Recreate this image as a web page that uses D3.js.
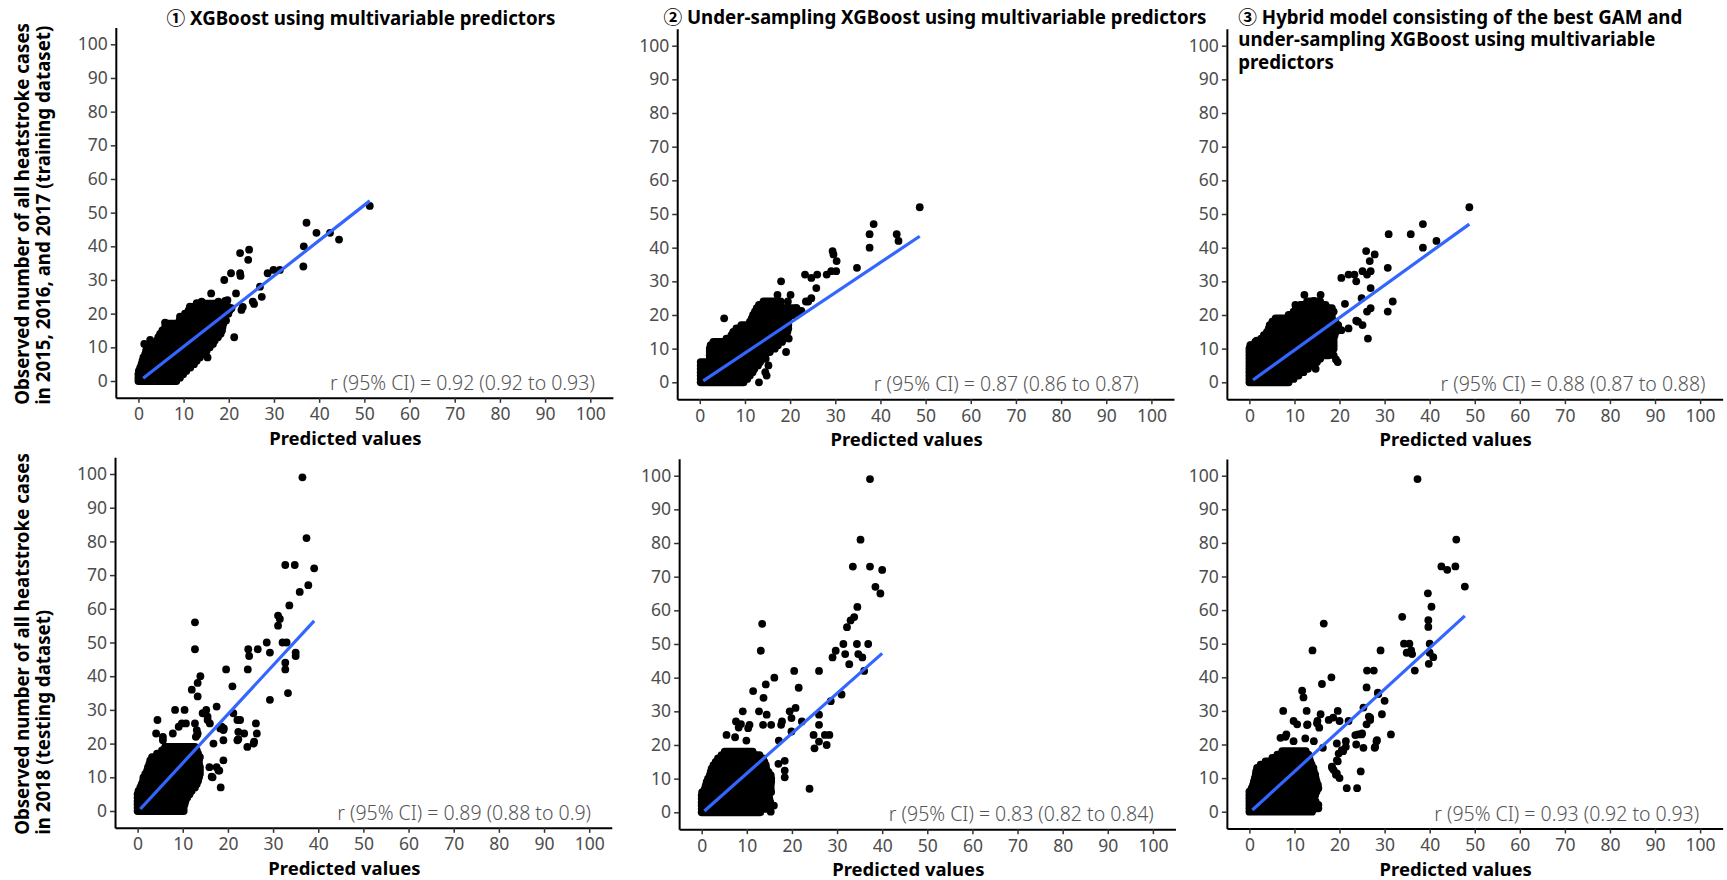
<!DOCTYPE html>
<html>
<head>
<meta charset="utf-8">
<script src="https://cdn.jsdelivr.net/npm/d3@7"></script>
<style>
  body { margin: 0; background: #fff; }
  text { font-family: "Noto Sans", "Noto Sans CJK JP", sans-serif; }
</style>
</head>
<body>
<svg id="chart" width="1727" height="880"></svg>
<script>
// ticks shared by every panel
const xTicks = [0, 10, 20, 30, 40, 50, 60, 70, 80, 90, 100];
const yTicks = [0, 10, 20, 30, 40, 50, 60, 70, 80, 90, 100];

const titleXgb = ['① XGBoost using multivariable predictors'];
const titleUs = ['② Under-sampling XGBoost using multivariable predictors'];
const titleHyb = ['③ Hybrid model consisting of the best GAM and', 'under-sampling XGBoost using multivariable', 'predictors'];

const yTitleTrain = ['Observed number of all heatstroke cases', 'in 2015, 2016, and 2017 (training dataset)'];
const yTitleTest = ['Observed number of all heatstroke cases', 'in 2018 (testing dataset)'];
const xTitle = 'Predicted values';

const corrXgbTrain = 'r (95% CI) = 0.92 (0.92 to 0.93)';
const corrUsTrain = 'r (95% CI) = 0.87 (0.86 to 0.87)';
const corrHybTrain = 'r (95% CI) = 0.88 (0.87 to 0.88)';
const corrXgbTest = 'r (95% CI) = 0.89 (0.88 to 0.9)';
const corrUsTest = 'r (95% CI) = 0.83 (0.82 to 0.84)';
const corrHybTest = 'r (95% CI) = 0.93 (0.92 to 0.93)';

// lm fit, ends of the line [predicted, observed]
const fitXgbTrain = [[1.05, 0.8], [51.2, 53.5]];
const fitUsTrain = [[0.76, 0.4], [48.7, 43.4]];
const fitHybTrain = [[0.8, 0.7], [48.8, 47.0]];
const fitXgbTest = [[0.6, 0.6], [39.1, 56.4]];
const fitUsTest = [[0.6, 0.4], [40.0, 47.2]];
const fitHybTest = [[0.66, 0.5], [47.8, 58.3]];

// dense part of each cloud: [observed count, lowest predicted, highest predicted]
const coreXgbTrain = [[0,0,8.4],[1,0,9.2],[2,0,9.9],[3,0.1,10.6],[4,0.4,11.5],[5,0.7,12.3],[6,0.9,12.9],[7,1.1,13.6],[8,1.5,14.5],[9,1.7,15.1],[10,1.9,15.8],[11,3,16.5],[12,4.1,16.9],[13,4.4,17.6],[14,4.8,18.2],[15,5.3,18.5],[16,5.9,18.6],[17,6.3,18.8],[18,9.1,18.9],[19,9.6,19.1],[20,10.3,19.9],[21,11.1,20.2],[22,11.5,19.9],[23,13.2,18]];
const coreUsTrain = [[0,0.2,9.7],[1,0.2,10.5],[2,0.2,11.1],[3,0.2,11.7],[4,0.2,12.1],[5,0.2,12.9],[6,0.2,13.4],[7,2.2,14],[8,2.2,14.3],[9,2.2,15.5],[10,2.2,16.6],[11,2.4,17.3],[12,3,18.2],[13,5.9,18.7],[14,7,19.2],[15,7.4,19.4],[16,8.1,19.6],[17,9.2,19.6],[18,11.1,19.2],[19,11.5,19.6],[20,11.8,21.4],[21,12.2,22.4],[22,12.6,21.4],[23,13.1,17.9],[24,14.1,17.9]];
const coreHybTrain = [[0,0,8.7],[1,0,9.8],[2,0,10.9],[3,0,12],[4,0,13],[5,0,13.9],[6,0,15],[7,0,15.7],[8,0,17.6],[9,0,18.3],[10,0,18.7],[11,0.2,18.7],[12,1.3,18.7],[13,2.6,18.7],[14,3.2,18.9],[15,3.9,19.2],[16,4.3,19.4],[17,4.5,19.7],[18,5.1,19.1],[19,5.8,18.3],[20,8.7,18.3],[21,9.8,18.7],[22,10.4,18.3],[23,11.3,16.9],[24,12.8,15.7]];
const coreXgbTest = [[0,0,10.2],[1,0,10.2],[2,0,10.4],[3,0,10.6],[4,0,11],[5,0,11.5],[6,0.2,12],[7,0.6,12.7],[8,0.9,13.1],[9,1.2,13.4],[10,1.3,13.6],[11,1.7,13.8],[12,2.1,13.8],[13,2.3,13.8],[14,2.6,13.6],[15,2.8,13.6],[16,3.2,13.8],[17,4.3,13.4],[18,5.4,13.1],[19,6.1,12.7]];
const coreUsTest = [[0,0,13],[1,0,14.5],[2,0,15.5],[3,0,15.2],[4,0,15],[5,0,14.9],[6,0.1,15.4],[7,0.7,15.3],[8,0.9,15.3],[9,1.1,15.4],[10,1.4,15.4],[11,1.8,15.3],[12,2,14.8],[13,2.2,14.3],[14,2.6,14.2],[15,3.1,13.9],[16,3.6,13.6],[17,4.4,12.8],[18,5.1,11.3]];
const coreHybTest = [[0,0,13.9],[1,0,15.3],[2,0,15.3],[3,0,14.7],[4,0,14.4],[5,0,14.6],[6,0,14.9],[7,0.5,15.3],[8,0.8,15.2],[9,1,14.9],[10,1.2,14.7],[11,1.4,14.6],[12,1.5,14.3],[13,1.7,14.2],[14,2.5,13.8],[15,3.6,13.5],[16,5.1,13.3],[17,6.2,13.1],[18,7.3,12.5]];

// single points outside the dense part [predicted, observed]
const ptsXgbTrain = [[51.2,52],[37.2,47],[39.4,44],[42.4,44],[44.4,42],[36.6,40],[36.5,34],[22.5,38],[24.5,39],[24.3,36],[28.6,32],[29.9,33],[31.3,33],[27.3,25],[26.9,28],[25.3,23.6],[25.6,22.9],[23.1,22],[22.8,21.1],[20.5,32],[22.5,32],[22.6,31.2],[19,30],[21.6,26],[19.2,23.8],[19.7,24],[17.7,23.6],[19.9,20.6],[20.6,21.6],[19.4,18],[21.2,13],[16.1,26],[15.3,7],[14.4,10],[1.3,11],[2.6,12.2],[5.9,17.3],[9.2,19.1],[11.4,22.1],[12.9,23.1],[14,23.6]];
const ptsUsTrain = [[48.7,52],[38.5,47],[37.6,44],[43.6,44],[44,42],[37.6,40],[34.8,34],[29.4,39],[29.6,38],[30.3,36],[28.1,32],[29.1,33],[30.2,33],[23.3,32],[24.7,31],[26,32],[25.8,28],[24.7,25],[23.5,24],[24,24],[18,30],[20.1,26],[17.2,26],[5.4,19],[19.1,9],[19.7,13],[13.1,0],[14.8,2],[15.2,5],[14.6,7],[14.5,3],[21.4,22],[22.5,21.2],[19.5,24]];
const ptsHybTrain = [[48.8,52],[38.5,47],[30.9,44],[35.8,44],[41.5,42],[38.5,40],[25.9,39],[27.8,38],[26.7,36],[30.7,34],[20.4,31],[22,32],[23.3,32],[23.7,30],[25.1,33],[26.9,33],[26.1,32],[26.9,28],[24.9,25],[31.8,24],[30.7,21],[26.9,22],[26.1,21],[24.1,18],[25.1,17],[23.7,18.3],[26.3,13],[19.6,6],[19.2,6.8],[14.7,4],[20.4,15.5],[22,16],[21.2,23.3],[12.2,26],[15.8,26],[10.2,23],[14.3,24.2],[0.4,11],[1.6,12.4],[18.7,8]];
const ptsXgbTest = [[36.5,99],[37.4,81],[32.7,73],[34.8,73],[39.1,72],[37.8,67],[35.9,65],[33.6,61],[31.1,58],[31.5,57],[31.1,55],[28.6,50],[32.1,50],[33,50],[29.3,47],[35,47],[35,46],[32.7,44],[32.7,42],[33.3,35],[29.3,33],[24.5,48],[24.7,46],[26.6,48],[24.4,42],[19.6,42],[21,37],[12.7,56],[12.7,48],[13.9,40],[12,36],[13.3,38],[13.3,34],[17.5,31],[8.3,30],[10.4,30],[4.4,27],[4.1,23],[5.6,22],[5.6,21],[7.8,23],[9.1,25],[9.8,26],[10.7,26],[12.7,26],[13.3,23],[12.9,22],[14.4,29],[15.2,30],[15.5,27],[16,26],[15.5,28],[19,24],[19,21],[18.6,25],[21.2,29],[22.1,27],[22.7,27],[22.1,21],[23.6,23],[24.3,19],[25.7,20],[26.2,26],[26.4,23],[16.8,20],[16.4,10.2],[18.1,12],[18.4,7],[19,15],[17.5,13],[15.9,13],[16.6,10],[17.9,12],[13.1,24],[13.2,22.6],[18.3,24.5],[19.1,24.5],[22.3,23.5],[22.3,21.3],[25.8,20.6]];
const ptsUsTest = [[37.3,99],[35.2,81],[33.5,73],[37.3,73],[40,72],[38.5,67],[39.6,65],[34.5,61],[33.8,58],[33,57],[32.2,55],[31.4,50],[34.4,50],[36.9,50],[29.7,48],[29,46],[31.8,47],[34.7,47],[35.6,46],[32.7,44],[36,42],[31,35],[28.6,33],[20.5,42],[26,42],[21.5,37],[26,29],[26,26],[24.8,23],[25,19],[26,21],[27.3,23],[28.3,23],[27.7,20],[23.9,7],[13.4,56],[13.1,48],[16.1,40],[14.2,38],[11.4,36],[13.7,34],[9.1,30],[12.7,30],[19.5,30],[20.8,31],[19.9,28],[22.2,27],[7.6,27],[5.5,23],[7.4,22.3],[8.2,25.2],[8.7,26.2],[10.6,26],[10.3,25],[9.9,21.3],[14.4,29],[13.6,26],[15.4,26],[17.6,26],[17.8,27],[17.1,21.3],[19.9,24],[18.4,15.3],[18.4,12.4],[18.4,10.4],[17,14.4],[14.6,2.7],[16,2],[15.3,0.2]];
const ptsHybTest = [[37.3,99],[45.9,81],[42.6,73],[45.7,73],[43.9,72],[47.8,67],[39.6,65],[40.4,61],[33.9,58],[39.7,57],[39.7,55],[34.3,50],[35.5,50],[40,50],[34.9,47.3],[35.9,48],[36.1,46.9],[40,47.3],[40.8,46],[39.8,44],[36.7,42],[29.1,48],[26.1,42],[27.6,42],[26,37],[28.6,35],[30,33],[25.3,31],[29.4,29],[26.8,28],[26,26],[31.4,23],[28.2,21],[27.8,19],[24.1,23],[24.9,23],[25.3,19],[23.7,20],[20.8,18],[21.4,21],[19.6,15],[18.4,13],[19.2,11],[20,10],[21.6,7],[23.9,7],[24.7,12],[20,27],[19.6,30],[18.6,28],[22,27],[16.5,56],[14,48],[18.2,40],[16.1,38],[11.7,36],[12,34],[7.5,30],[12.7,30],[15.8,29],[9.8,27],[10.6,26],[12.9,26],[8.2,23],[6.9,22],[9.8,21],[15.1,27],[15.5,25],[14.3,21],[16.3,19],[28.5,35.4],[28.3,21.3],[27.9,19.3],[21.4,19.3],[20.5,18.3],[19.4,15.3],[19.8,17.3],[18.3,13.4],[18.7,12.4],[19.4,11.4],[17.6,27.3],[12.8,25.8],[15,26.3],[8,22.3],[12.4,21.8],[19.4,20.3],[23.5,22.8],[25,23.3],[26.5,28.3],[26.8,27.3]];

// layout: pixel position of the 0 and 100 ticks per panel
const panels = [
  { title: titleXgb, tAnchor: 'middle', tx0: 360.9, tY: 25, corr: corrXgbTrain, corrX: 101, fit: fitXgbTrain, core: coreXgbTrain, pts: ptsXgbTrain, px: [138.4, 590.3], py: [381, 44.3], yTitle: yTitleTrain },
  { title: titleUs, tAnchor: 'start', tx0: 663.4, tY: 23.5, corr: corrUsTrain, corrX: 97.2, fit: fitUsTrain, core: coreUsTrain, pts: ptsUsTrain, px: [699.8, 1151.4], py: [382.3, 45.7] },
  { title: titleHyb, tAnchor: 'start', tx0: 1238.3, tY: 23.5, corr: corrHybTrain, corrX: 101.2, fit: fitHybTrain, core: coreHybTrain, pts: ptsHybTrain, px: [1249.4, 1700.1], py: [382.3, 45.7] },
  { corr: corrXgbTest, corrX: 100.4, fit: fitXgbTest, core: coreXgbTest, pts: ptsXgbTest, px: [137.6, 589.2], py: [811, 474], yTitle: yTitleTest },
  { corr: corrUsTest, corrX: 100.2, fit: fitUsTest, core: coreUsTest, pts: ptsUsTest, px: [701.7, 1152.9], py: [812.3, 475.7] },
  { corr: corrHybTest, corrX: 99.8, fit: fitHybTest, core: coreHybTest, pts: ptsHybTest, px: [1249.4, 1700.1], py: [811.7, 475.7] }
];

const R = 3.9;
const svg = d3.select('#chart');

// scale over the expanded range -5..105, pinned by the 0 and 100 ticks
function makeScale(p) {
  const s = d3.scaleLinear().domain([0, 100]).range(p);
  return d3.scaleLinear().domain([-5, 105]).range([s(-5), s(105)]);
}

panels.forEach(p => {
  const x = makeScale(p.px);
  const y = makeScale(p.py);
  const g = svg.append('g');

  g.selectAll('line.core')
    .data(p.core)
    .join('line')
    .attr('class', 'core')
    .attr('x1', d => x(d[1]))
    .attr('x2', d => x(d[2]))
    .attr('y1', d => y(d[0]))
    .attr('y2', d => y(d[0]))
    .attr('stroke', '#000')
    .attr('stroke-width', 2 * R)
    .attr('stroke-linecap', 'round');

  g.selectAll('circle.pt')
    .data(p.pts)
    .join('circle')
    .attr('class', 'pt')
    .attr('cx', d => x(d[0]))
    .attr('cy', d => y(d[1]))
    .attr('r', R)
    .attr('fill', '#000');

  g.append('path')
    .datum(p.fit)
    .attr('fill', 'none')
    .attr('stroke', '#3366FF')
    .attr('stroke-width', 3.2)
    .attr('d', d3.line().x(d => x(d[0])).y(d => y(d[1])));

  g.append('text')
    .attr('x', x(p.corrX))
    .attr('y', y(-0.6))
    .attr('dy', '0.36em')
    .attr('text-anchor', 'end')
    .attr('font-size', 19.5)
    .attr('font-weight', 300)
    .attr('fill', '#555')
    .text(p.corr);

  // axes
  const xAxis = g.append('g')
    .attr('transform', `translate(0,${y(-5)})`)
    .call(d3.axisBottom(x).tickValues(xTicks).tickSizeInner(5).tickSizeOuter(0).tickPadding(5));
  const yAxis = g.append('g')
    .attr('transform', `translate(${x(-5)},0)`)
    .call(d3.axisLeft(y).tickValues(yTicks).tickSizeInner(5).tickSizeOuter(0).tickPadding(3));

  [xAxis, yAxis].forEach(a => {
    a.select('.domain').attr('stroke', '#000').attr('stroke-width', 2);
    a.selectAll('.tick line').attr('stroke', '#333').attr('stroke-width', 1.5);
    a.selectAll('.tick text')
      .attr('fill', '#4d4d4d')
      .attr('font-size', 17.5)
      .style('font-family', '"Noto Sans", "Noto Sans CJK JP", sans-serif');
  });

  // x axis title, centred over tick labels + panel
  g.append('text')
    .attr('x', (x(-5) - 38 + x(105)) / 2)
    .attr('y', y(-5) + 47)
    .attr('text-anchor', 'middle')
    .attr('font-size', 18.5)
    .attr('font-weight', 700)
    .attr('fill', '#000')
    .text(xTitle);

  if (p.title) {
    g.append('text')
      .attr('x', p.tx0)
      .attr('y', p.tY)
      .attr('text-anchor', p.tAnchor)
      .attr('font-size', 18.7)
      .attr('font-weight', 700)
      .attr('fill', '#000')
      .selectAll('tspan')
      .data(p.title)
      .join('tspan')
      .attr('x', p.tx0)
      .attr('dy', (d, i) => i === 0 ? 0 : 22.5)
      .text(d => d);
  }

  if (p.yTitle) {
    // two-line y title, one text element, read bottom to top
    g.append('text')
      .attr('transform', `translate(28.5,${y(-5) + 7}) rotate(-90)`)
      .attr('text-anchor', 'start')
      .attr('font-size', 18.7)
      .attr('font-weight', 700)
      .attr('fill', '#000')
      .selectAll('tspan')
      .data(p.yTitle)
      .join('tspan')
      .attr('x', 0)
      .attr('dy', (d, i) => i === 0 ? 0 : 21)
      .text(d => d);
  }
});
</script>
</body>
</html>
